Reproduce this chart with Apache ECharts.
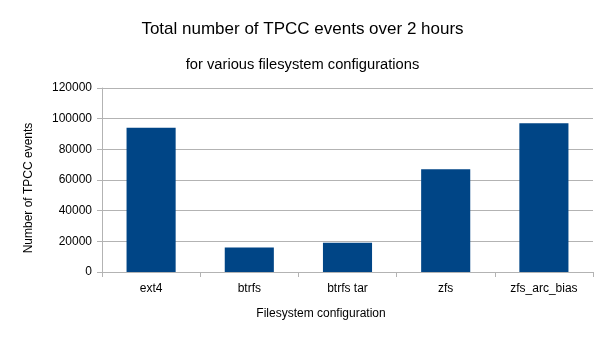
<!DOCTYPE html>
<html><head><meta charset="utf-8">
<script src="https://cdn.jsdelivr.net/npm/echarts@6/dist/echarts.min.js"></script>
<style>html,body{margin:0;padding:0;background:#fff}#c{width:605px;height:340px}</style>
</head><body><div id="c"></div>
<script>
const categories = ["ext4", "btrfs", "btrfs tar", "zfs", "zfs_arc_bias"];
const events = [94000, 16000, 19000, 67000, 97000];
const yTicks = {min: 0, max: 120000, interval: 20000};

const chart = echarts.init(document.getElementById('c'), null, {renderer: 'canvas'});
const font = '"Liberation Sans", Arial, sans-serif';
chart.setOption({
  animation: false,
  backgroundColor: '#fff',
  title: [
    {text: 'Total number of TPCC events over 2 hours', left: 'center', top: 16,
     textStyle: {fontFamily: font, fontSize: 17, fontWeight: 'normal', color: '#000'}},
    {text: 'for various filesystem configurations', left: 'center', top: 52,
     textStyle: {fontFamily: font, fontSize: 14.7, fontWeight: 'normal', color: '#000'}}
  ],
  grid: {left: 102, right: 12, top: 88, bottom: 68},
  xAxis: {
    type: 'category', data: categories,
    name: 'Filesystem configuration', nameLocation: 'middle', nameGap: 36,
    nameTextStyle: {fontFamily: font, fontSize: 12, color: '#000', padding: [0, 53, 0, 0]},
    axisLine: {lineStyle: {color: '#b3b3b3'}},
    axisTick: {show: true, length: 5, lineStyle: {color: '#b3b3b3'}},
    axisLabel: {fontFamily: font, fontSize: 12, color: '#000', margin: 11}
  },
  yAxis: {
    type: 'value', min: yTicks.min, max: yTicks.max, interval: yTicks.interval,
    name: 'Number of TPCC events', nameLocation: 'middle', nameGap: 67,
    nameTextStyle: {fontFamily: font, fontSize: 12, color: '#000', padding: [0, 16, 0, 0]},
    axisLine: {show: true, lineStyle: {color: '#b3b3b3'}},
    axisTick: {show: true, length: 5, lineStyle: {color: '#b3b3b3'}},
    axisLabel: {fontFamily: font, fontSize: 12, color: '#000', margin: 10,
                formatter: v => String(v)},
    splitLine: {lineStyle: {color: '#b3b3b3'}}
  },
  series: [{
    type: 'bar', data: events, barWidth: '50%',
    itemStyle: {color: '#004586'}
  }]
});
</script></body></html>
